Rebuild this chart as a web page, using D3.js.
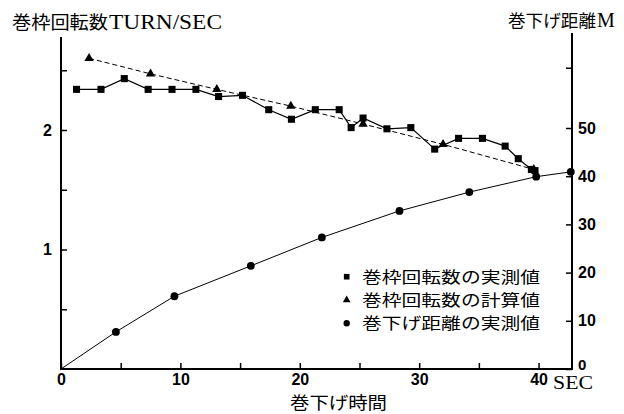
<!DOCTYPE html>
<html><head><meta charset="utf-8">
<script src="https://cdn.jsdelivr.net/npm/d3@7"></script>
<style>
html,body{margin:0;padding:0;background:#fff;}
svg{display:block;}
</style></head>
<body>
<svg id="c" width="624" height="414"></svg>
<script>
// ---- data ----
const squareT = [1.3,3.35,5.3,7.3,9.3,11.3,13.2,15.2,17.4,19.3,21.3,23.3,24.3,25.3,27.3,29.3,31.3,33.3,35.3,37.2,38.3,39.4,39.7];
const squareV = [2.34,2.34,2.43,2.34,2.34,2.34,2.28,2.29,2.17,2.09,2.17,2.17,2.02,2.10,2.01,2.02,1.84,1.93,1.93,1.865,1.76,1.67,1.66];
const triT = [2.35,7.5,13.05,19.25,25.3,32.0,39.6];
const triV = [2.60,2.47,2.34,2.20,2.05,1.88,1.67];
const distT = [0,4.6,9.5,15.9,21.85,28.35,34.2,39.8,42.7];
const distM = [0,7.7,15.1,21.4,27.3,32.8,36.7,39.9,40.9];
const xTicks = [0,5,10,15,20,25,30,35,40];
const xLabels = [0,10,20,30,40];
const leftTicks = [0.5,1,1.5,2,2.5];
const leftLabels = [1,2];
const rightTicks = [0,10,20,30,40,50,62.5];
const rightLabels = [0,10,20,30,40,50];
const legendItems = ["巻枠回転数の実測値","巻枠回転数の計算値","巻下げ距離の実測値"];
const leftTitleJ = "巻枠回転数", leftTitleL = "TURN/SEC";
const rightTitleJ = "巻下げ距離", rightTitleL = "M";
const xTitle = "巻下げ時間", xUnit = "SEC";

const svg = d3.select("#c");
const x = d3.scaleLinear().domain([0,42.8]).range([61,572]);
const yL = d3.scaleLinear().domain([0,2.5]).range([369,70.25]);
const yR = d3.scaleLinear().domain([0,50]).range([369,128]);

const numFont = "'Liberation Sans', Arial, sans-serif";
const cjk = "'Noto Sans CJK JP', sans-serif";
const serif = "'Liberation Serif', 'Times New Roman', serif";

// axes lines
const ax = svg.append("g").attr("stroke","#000").attr("stroke-width",2);
ax.append("line").attr("x1",61).attr("x2",61).attr("y1",37).attr("y2",369);
ax.append("line").attr("x1",572).attr("x2",572).attr("y1",33).attr("y2",369);
ax.append("line").attr("x1",60).attr("x2",573).attr("y1",369).attr("y2",369);

function style(g){
  g.select(".domain").remove();
  g.selectAll(".tick line").attr("stroke","#000").attr("stroke-width",1.5);
  g.selectAll(".tick text").attr("font-family",numFont).attr("font-weight","bold").attr("font-size",16).attr("fill","#000");
}
svg.append("g").attr("transform","translate(0,369)")
  .call(d3.axisBottom(x).tickValues(xTicks).tickSizeInner(-6).tickSizeOuter(0).tickPadding(5)
    .tickFormat(d=> xLabels.includes(d)? d : ""))
  .call(style);
svg.append("g").attr("transform","translate(61,0)")
  .call(d3.axisLeft(yL).tickValues(leftTicks).tickSizeInner(-6).tickSizeOuter(0).tickPadding(9)
    .tickFormat(d=> leftLabels.includes(d)? d : ""))
  .call(style);
const rAx = svg.append("g").attr("transform","translate(572,0)")
  .call(d3.axisRight(yR).tickValues(rightTicks).tickSizeInner(-6).tickSizeOuter(0).tickPadding(6)
    .tickFormat(d=> rightLabels.includes(d)? d : ""))
  .call(style);
rAx.selectAll(".tick text").filter(d=>d===0).attr("dy","0.05em").attr("font-size",15);

// titles
svg.append("text").attr("x",12).attr("y",29).attr("font-family",cjk).attr("font-size",18)
  .attr("textLength",96).attr("lengthAdjust","spacingAndGlyphs").text(leftTitleJ);
svg.append("text").attr("x",109).attr("y",29).attr("font-family",serif).attr("font-size",20)
  .attr("textLength",113).attr("lengthAdjust","spacingAndGlyphs").text(leftTitleL);
svg.append("text").attr("x",508).attr("y",27).attr("font-family",cjk).attr("font-size",17)
  .attr("textLength",88).attr("lengthAdjust","spacingAndGlyphs").text(rightTitleJ);
svg.append("text").attr("x",597).attr("y",27).attr("font-family",serif).attr("font-size",20).text(rightTitleL);
svg.append("text").attr("x",290).attr("y",409).attr("font-family",cjk).attr("font-size",17)
  .attr("textLength",97).attr("lengthAdjust","spacingAndGlyphs").text(xTitle);
svg.append("text").attr("x",553).attr("y",389).attr("font-family",serif).attr("font-size",18)
  .attr("textLength",40).attr("lengthAdjust","spacingAndGlyphs").text(xUnit);

// lines
const sq = squareT.map((t,i)=>[t,squareV[i]]);
const tr = triT.map((t,i)=>[t,triV[i]]);
const ds = distT.map((t,i)=>[t,distM[i]]);
const lineL = d3.line().x(d=>x(d[0])).y(d=>yL(d[1]));
const lineR = d3.line().x(d=>x(d[0])).y(d=>yR(d[1]));

svg.append("path").attr("d",lineL(tr)).attr("fill","none").attr("stroke","#000").attr("stroke-width",1).attr("stroke-dasharray","5,3");
svg.append("path").attr("d",lineL(sq)).attr("fill","none").attr("stroke","#000").attr("stroke-width",1.2);
svg.append("path").attr("d",lineR(ds)).attr("fill","none").attr("stroke","#000").attr("stroke-width",1);

const sym = (type,size)=>d3.symbol().type(type).size(size)();
svg.append("g").selectAll("path").data(tr).join("path")
  .attr("transform",d=>`translate(${x(d[0])},${yL(d[1])})`).attr("d",sym(d3.symbolTriangle,38)).attr("fill","#000");
svg.append("g").selectAll("path").data(sq).join("path")
  .attr("transform",d=>`translate(${x(d[0])},${yL(d[1])})`).attr("d",sym(d3.symbolSquare,50)).attr("fill","#000");
svg.append("g").selectAll("path").data(ds.filter(d=>d[0]>0)).join("path")
  .attr("transform",d=>`translate(${x(d[0])},${yR(d[1])})`).attr("d",sym(d3.symbolCircle,48)).attr("fill","#000");

// legend
const legSyms = [d3.symbolSquare, d3.symbolTriangle, d3.symbolCircle];
const leg = svg.append("g");
legendItems.forEach((s,i)=>{
  const cy = 276.7 + i*23.3;
  leg.append("path").attr("transform",`translate(346.7,${cy})`).attr("d",sym(legSyms[i], i===1?26:32)).attr("fill","#000");
  leg.append("text").attr("x",362).attr("y",cy+6).attr("font-family",cjk).attr("font-size",15.5)
    .attr("textLength",178).attr("lengthAdjust","spacingAndGlyphs").text(s);
});
</script>
</body></html>
